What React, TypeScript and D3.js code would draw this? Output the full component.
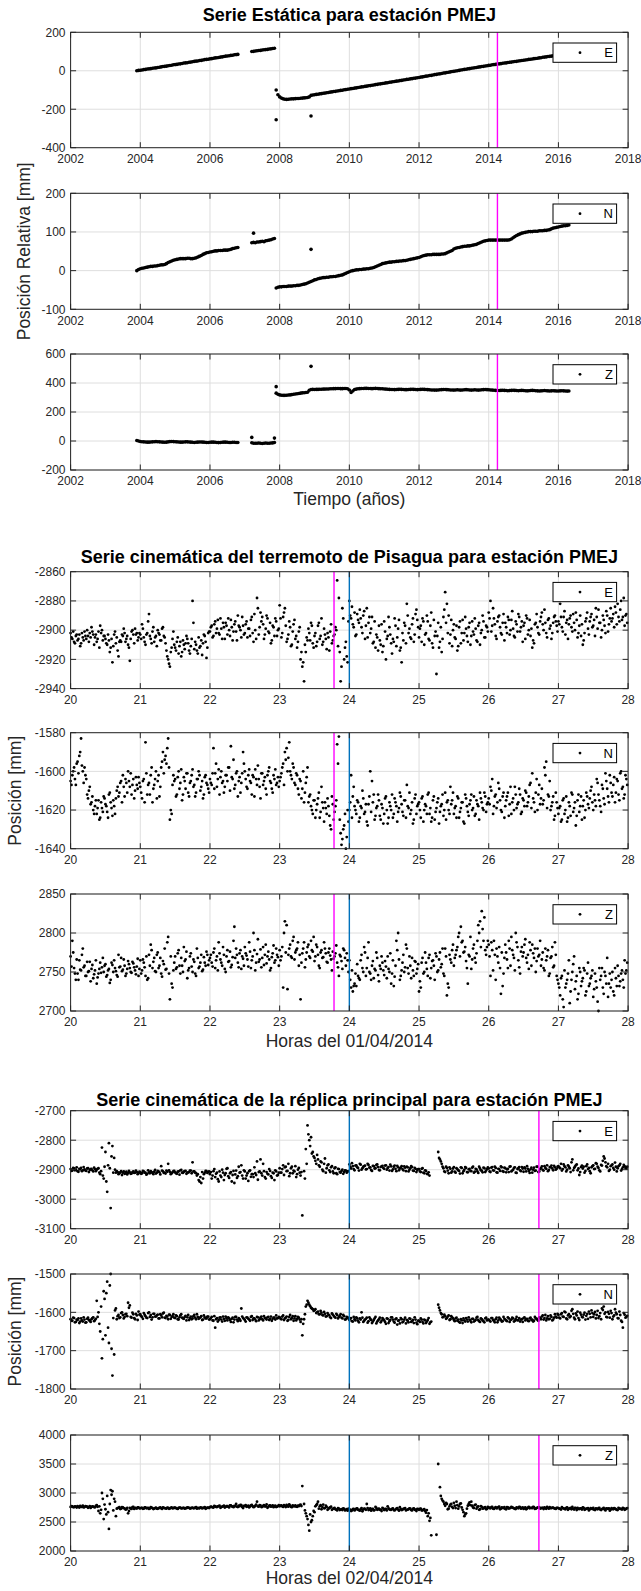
import React from "react";
import * as d3 from "d3";

const WIDTH = 641;
const HEIGHT = 1591;
const PLOT_LEFT = 70.6;
const PLOT_RIGHT = 628.1;
const FONT = '"Liberation Sans", Arial, Helvetica, sans-serif';
const AXIS_COLOR = "#262626";
const GRID_COLOR = "#dedede";
const MAGENTA = "#ff00ff";
const BLUE = "#0072bd";

// ---------------- axis ticks ----------------
const yearTicks = [2002, 2004, 2006, 2008, 2010, 2012, 2014, 2016, 2018];
const hourTicks = [20, 21, 22, 23, 24, 25, 26, 27, 28];

// ---------------- static series (mm), sampled every 0.05 yr ----------------
const STATIC_STEP = 0.05;
const segStartA = 2003.9;
const segStartB = 2007.2;
const segStartC = 2007.9;
const staticEvent = 2014.25;

const eastSegA = [0,2,3,4,6,7,9,10,11,13,14,15,17,18,20,22,23,24,26,27,29,31,32,33,35,36,38,40,41,42,44,45,47,49,50,51,53,54,56,58,59,60,62,63,65,67,68,69,71,72,74,76,77,78,80,81,83,84,85];
const eastSegB = [100,101,103,104,105,106,108,109,110,111,113,114,116,117];
const eastSegC = [-100,-125,-136,-142,-146,-148,-149,-148,-147,-146,-146,-145,-144,-144,-143,-142,-141,-140,-139,-136,-128,-126,-125,
-123,-122,-120,-119,-117,-116,-114,-113,-111,-110,-108,-107,-105,-104,-102,-101,-99,-98,-96,-95,
-93,-92,-90,-89,-87,-86,-84,-83,-81,-80,-78,-77,-75,-74,-72,-71,-69,-68,-66,-65,
-63,-62,-60,-59,-57,-56,-54,-53,-51,-50,-48,-47,-45,-44,-42,-41,-39,-38,-36,-35,
-33,-32,-30,-28,-27,-25,-24,-22,-20,-19,-17,-16,-14,-12,-11,-9,-8,-6,-4,-3,
-1,0,2,4,5,7,8,10,11,13,14,16,17,19,20,22,23,25,26,28,
29,31,32,33,35,36,37,39,40,41,43,44,45,47,48,49,51,52,53,55,
56,57,59,60,61,63,64,65,67,68,70,71,72,74,75,76,78,79,80,82,
83,84,86,87,89,90];
const eastOutliers: [number, number][] = [[2007.9, -255], [2008.9, -235]];

const northSegA = [0,3,5,6,7,8,9,10,11,11,12,12,13,14,15,15,16,18,21,23,25,27,28,29,30,31,31,31,31,32,32,31,31,32,33,35,37,39,42,44,46,47,48,49,50,51,51,52,52,52,53,53,53,54,55,57,58,59,60];
const northSegB = [72,73,72,74,74,75,76,75,77,78,79,80,82,83];
const northSegC = [-45,-43,
-42,-42,-41,-41,-41,-40,-40,-40,-39,-39,-38,-38,-37,-36,-35,-34,-32,-30,-28,-26,
-24,-23,-21,-20,-19,-18,-18,-17,-17,-16,-16,-15,-15,-14,-13,-12,-11,-9,-7,-5,
-3,-1,0,1,2,2,3,3,4,4,5,5,6,7,8,10,12,14,16,18,
19,20,21,22,22,23,23,24,24,25,25,26,26,27,28,29,30,31,32,33,
34,36,38,39,40,41,41,41,42,42,42,42,42,43,43,44,46,48,50,52,
56,58,59,60,61,62,63,63,64,64,65,66,67,68,70,72,74,76,77,78,
79,79,79,79,79,79,79,79,79,79,79,79,80,82,85,88,91,93,95,97,
98,99,100,101,101,101,102,102,102,103,103,103,104,104,105,106,108,110,111,112,
113,114,115,116,116,117,118];
const northOutliers: [number, number][] = [[2007.25, 97], [2008.9, 55]];

const upSegA = [3,0,-3,-5,-6,-7,-8,-8,-7,-6,-5,-4,-5,-6,-7,-8,-9,-8,-6,-4,-3,-4,-5,-6,-7,-8,-8,-7,-6,-6,-7,-8,-9,-10,-9,-8,-7,-7,-8,-9,-10,-10,-9,-8,-8,-9,-10,-11,-10,-9,-8,-8,-9,-10,-10,-9,-9,-10,-10];
const upSegB = [-12,-15,-16,-15,-14,-16,-17,-15,-14,-16,-15,-14,-13,-10];
const upSegC = [330,322,
318,316,315,315,316,317,318,320,322,324,326,328,330,332,333,334,336,350,355,356,
355,356,356,357,357,358,358,359,359,360,360,361,361,362,362,361,361,362,362,360,
352,335,345,355,358,360,361,362,362,363,363,362,362,361,362,363,362,361,360,360,
359,358,357,356,355,355,354,355,356,357,356,355,354,354,355,356,357,356,355,354,
355,356,357,356,355,354,353,352,352,351,351,352,353,354,355,355,354,353,352,352,
351,352,353,352,351,352,353,354,353,352,351,352,353,352,351,352,353,354,355,354,
353,352,351,350,349,348,348,349,350,349,348,347,348,349,350,349,348,347,348,349,
348,347,346,347,348,349,348,347,346,345,346,347,348,347,346,345,346,347,346,345,
345,346,347,346,345,344,345];
const upOutliers: [number, number][] = [[2007.2, 25], [2007.85, 20], [2007.9, 375], [2008.9, 515]];

// ---------------- kinematic series: two interleaved sample sets, 40 samples per hour each,
// offsets (mm) from a base value ----------------
const KIN_START = 20;
const KIN_STEP = 0.025;
const KIN_HALF = 0.0125;
const pisaguaQuake = 23.78;
const dayBoundary = 24;
const aftershockQuake = 26.72;

const pisaguaEastBase = -2900;
const pisaguaEast: (number | null)[][] = [
  [-2,-6,-8,-4,-7,-3,-9,-5,-1,-6,-4,-2,2,-3,-5,-8,-1,3,0,-4,-6,-10,-7,-12,-22,-3,-9,-14,-8,-8,-4,-2,-6,-10,-21,-1,-3,1,-2,-5],
  [-3,4,-5,-10,-2,11,-6,-1,-8,-4,0,-3,-7,2,-5,-14,-20,-25,-12,-1,-12,-8,-16,-8,-15,-10,-9,-6,-14,-11,20,-13,-10,-16,-12,-7,-9,-4,-19,-2],
  [-1,3,-4,6,1,-2,8,-6,2,5,-3,0,7,-7,4,-1,10,2,-5,3,-2,6,1,-4,9,-8,0,22,-3,12,9,-6,1,8,-2,-9,3,-4,6,0],
  [17,-5,9,15,-8,-3,2,-10,4,-6,-12,-1,-20,-25,-35,-15,-7,-2,5,-9,-4,-11,3,-6,8,-8,-3,-13,-5,-1,-9,-4,2,34,22,-35,15,-20,-8,-22],
  [20,8,4,12,-3,7,14,2,10,-6,15,5,-2,9,-8,-12,-5,3,-10,-15,6,-20,-4,2,-9,-6,8,-11,1,-14,-22,-7,3,18,-2,-5,4,-8,11,7],
  [-5,3,8,-10,-2,6,-7,12,-12,-4,-30,5,-8,-15,9,26,18,10,-3,-11,4,-6,-14,2,-9,7,-2,1,-8,5,-4,-1,8,-7,3,-10,0,6,-5,2],
  [12,20,3,8,-4,6,10,-2,5,-7,2,9,-3,7,1,-5,4,11,-1,6,3,-6,8,0,-4,-12,-9,5,2,-3,9,4,14,-2,7,1,-6,5,10,3],
  [6,18,2,9,-3,7,4,10,-1,5,12,-5,3,-4,-10,-2,8,1,6,11,3,-4,9,14,5,0,7,-2,10,4,15,8,2,12,18,6,20,9,3,11],
];
const pisaguaEastB: (number | null)[][] = [
  [-5,-1,-9,-3,-6,-11,-2,-7,-4,0,-8,-5,-1,-10,-3,-6,-12,-2,-7,-4,-9,-3,-15,-6,-11,-1,-5,-18,-7,-3,1,-8,-4,-12,-6,0,-9,-3,-7,-2],
  [-6,1,-8,-3,6,-4,-9,2,-5,-11,-2,-7,1,-4,-9,-18,-23,-15,-6,-10,-14,-5,-11,-18,-7,-13,-4,-9,-16,-6,5,-8,-14,-5,-11,-17,-3,-8,-12,-1],
  [2,-5,4,-2,7,-3,1,5,-6,3,8,-4,2,-1,6,-7,3,0,9,-3,4,-5,1,7,-2,11,-6,15,2,6,4,-3,10,-1,5,-7,2,8,-4,1],
  [8,-2,12,3,-6,6,-11,-1,7,-4,-8,2,-15,-22,-10,-5,1,-7,3,-12,-2,-8,5,-4,-10,1,-6,-2,-14,4,-7,-3,0,-11,-15,-25,8,-12,-18,6],
  [10,16,2,-4,11,5,8,-2,13,3,-5,9,1,-9,6,-3,-14,-7,4,-11,-1,-6,9,-3,-16,-8,3,-5,7,-12,-2,5,-9,10,1,-6,8,-3,14,2],
  [1,-8,6,-3,10,-6,3,-9,7,-1,-4,-12,2,-6,14,5,-2,-9,7,0,-5,3,-11,6,-2,-7,9,-4,2,-10,6,-3,1,-8,5,-2,10,-5,3,-1],
  [8,-1,15,4,-6,9,2,-3,11,5,-2,7,0,13,-4,6,-1,9,2,-8,5,10,-3,7,1,-7,4,11,-2,6,12,0,5,-5,8,3,-2,9,6,-1],
  [4,9,-1,13,5,-6,8,2,11,0,7,-2,10,4,-7,6,12,-3,9,2,7,15,1,5,-5,10,3,13,-1,8,6,11,16,4,9,14,7,22,10,5],
];

const pisaguaNorthBase = -1610;
const pisaguaNorth: (number | null)[][] = [
  [5,8,12,3,15,18,27,10,12,6,-4,2,-6,-10,-8,-12,-5,-14,-9,-3,-7,-11,-2,-6,-13,-8,-4,2,-1,5,8,-3,4,10,2,-2,6,0,3,7],
  [2,-4,6,25,-2,4,8,-6,3,10,5,-3,12,20,16,14,27,-15,-12,8,6,-2,10,4,-5,7,1,9,-3,5,11,3,-1,6,8,2,-4,7,4,1],
  [6,3,22,9,2,11,7,4,-1,8,5,12,23,6,1,9,-3,7,4,20,10,2,8,5,-2,7,11,3,6,-4,9,5,1,8,12,4,-1,6,3,7],
  [5,9,14,20,22,17,10,6,12,3,8,-2,5,1,-6,4,12,-3,-8,-12,-5,-10,-4,-14,2,-9,-6,-12,-8,-18,-3,-15,-8,24,28,-22,-25,-18,-30,-10],
  [-10,8,-3,-8,-12,-6,-14,-9,-4,-11,-16,-7,10,5,-2,-13,-8,-5,-15,-9,-12,-3,-17,-6,-10,-14,-4,-8,-11,-1,-7,-13,-5,3,-9,-12,-6,-15,-2,-8],
  [-6,-14,-3,-10,-8,-2,-12,-16,-5,-15,-9,-4,-11,-7,-13,-1,-6,-10,2,-5,-12,-8,-3,-14,-9,-6,-17,-4,-11,-7,-2,-9,-13,-5,-8,-1,-6,-10,-3,-7],
  [-4,2,6,-8,-2,-6,1,-10,-3,-14,-5,-1,-7,-12,-4,2,-9,-6,-2,-11,-5,0,-8,-3,4,9,-6,-1,-10,3,-4,-7,12,15,-2,5,-8,-3,-13,-6],
  [-12,-8,-15,-4,-10,-16,-6,-13,-2,-9,-18,-5,-11,-3,-8,-14,-1,-7,-4,2,-10,-5,6,-2,-8,3,-4,9,1,-6,4,-3,7,-1,5,-5,10,2,-2,6],
];
const pisaguaNorthB: (number | null)[][] = [
  [3,10,6,14,9,20,13,4,8,-2,0,-7,-3,-12,-5,-9,-15,-6,-11,-4,-8,-14,-1,-9,-5,-12,0,-3,4,-6,2,6,-1,5,9,3,-4,7,1,4],
  [-1,5,-6,9,3,-2,12,1,6,-4,8,2,15,9,18,22,12,-10,3,5,-3,7,1,11,-2,5,9,-1,4,8,2,-3,6,10,0,5,-2,8,3,-1],
  [4,9,1,14,6,-2,10,5,2,8,12,0,7,16,3,10,5,-1,9,14,6,1,11,4,8,-3,6,13,2,9,3,7,-2,10,5,1,8,11,4,2],
  [7,12,3,16,10,25,8,14,4,9,1,6,-4,10,-1,7,-6,-2,-10,-5,-14,-7,-1,-11,-6,-16,-9,-4,-13,-20,-7,-11,-5,14,-15,-28,-20,-12,-24,-16],
  [-6,-14,2,-10,-5,-16,-8,0,-12,-7,-18,-3,-11,-6,-15,-9,-2,-13,-7,-17,-4,-10,-14,-8,-2,-12,-6,-16,-9,-3,-11,-5,-14,-8,-1,-10,-17,-4,-12,-7],
  [-10,-4,-16,-7,-12,-1,-9,-14,-3,-11,-6,-17,-8,-2,-10,-15,-5,-12,-7,-1,-9,-14,-4,-11,-6,-16,-2,-8,-13,-5,-10,-3,-12,-7,-15,-4,-9,-1,-11,-6],
  [-7,0,-12,-3,-9,4,-5,-11,-1,-8,-3,-13,2,-6,-10,-2,-7,1,-12,-4,-8,-1,-6,3,-9,-4,-11,6,-2,-7,1,-5,8,-9,-3,-10,-6,-15,-1,-9],
  [-9,-16,-5,-12,-3,-14,-8,-1,-11,-6,-13,-2,-8,-15,-5,-10,-3,-9,0,-6,-2,-8,4,-5,-11,1,-7,5,-3,8,-1,3,-6,6,-2,9,1,-4,8,3],
];

const pisaguaUpBase = 2760;
const pisaguaUp: (number | null)[][] = [
  [10,30,-5,-20,-12,5,-8,20,-2,-15,-10,3,-6,-18,-8,-25,-12,2,-4,-10,0,-14,-6,-20,-1,5,-9,-16,-4,8,-7,-2,-12,4,-5,-11,1,-8,-3,-15],
  [5,-8,2,-15,-20,12,25,-5,8,-10,15,-2,-12,4,20,-6,35,-45,-25,-8,10,-4,18,-12,-2,22,6,-18,-5,14,-10,3,-15,8,-3,12,-7,2,16,-1],
  [8,2,15,-5,10,28,6,-2,12,-10,18,4,-4,9,48,20,2,14,-6,7,22,11,-3,16,5,40,-8,13,3,19,8,-1,25,10,6,-5,14,2,20,9],
  [18,10,-30,55,50,12,25,8,35,15,20,-2,-45,14,28,6,22,10,30,16,4,25,12,-5,18,9,20,3,15,11,-8,7,14,2,-15,10,-6,18,-2,5],
  [5,-30,-35,-25,-28,-15,-20,12,-10,15,-5,28,-12,-2,-18,-8,8,-22,-6,2,-14,-3,10,-10,-25,5,-16,30,40,-20,-8,12,-4,20,-12,-2,8,-15,3,-6],
  [-35,-30,8,-10,2,-15,12,-5,5,-20,10,-8,15,0,-12,20,-40,-30,6,18,-2,12,22,40,48,30,16,4,-25,10,-6,20,8,14,50,55,68,30,18,22],
  [25,-15,18,30,-20,10,22,-38,-28,8,15,-5,20,35,12,-8,28,5,-12,22,15,32,2,-6,18,25,8,-10,20,12,-2,15,-8,5,18,-12,10,-4,28,-15],
  [-25,-40,-15,-55,-30,-20,5,-35,-10,10,-22,-45,-5,-28,-18,-8,-35,2,-25,-15,-42,-12,-30,-60,-20,-5,-38,-15,8,-25,-30,-10,-40,-18,-2,-28,-12,-20,5,-8],
];
const pisaguaUpB: (number | null)[][] = [
  [-3,15,-12,6,-20,-7,12,-4,-15,3,-9,-22,-1,-13,5,-17,-6,-11,8,-2,-16,-8,-24,2,-10,-5,-14,12,-3,-9,6,-15,-6,0,-10,3,-4,-13,7,-6],
  [-12,6,-4,10,-18,-2,18,3,-9,12,-5,8,-16,0,-7,28,-12,10,-30,2,-6,14,-2,8,-10,4,16,-8,10,-3,6,-12,20,-5,2,-9,9,-2,12,5],
  [12,-3,20,5,-8,14,2,22,-6,10,3,16,-1,30,8,12,-4,18,10,-2,14,6,28,-5,10,18,2,32,6,-4,22,12,1,16,-8,9,24,5,12,-2],
  [5,22,40,15,-32,20,10,30,6,18,28,12,2,20,-4,15,25,8,18,35,10,22,-2,15,8,28,14,2,20,6,16,10,24,-4,12,4,20,8,14,-10],
  [-20,-8,-28,-12,0,-18,5,-5,22,-15,8,-10,-20,4,-6,15,-14,-2,10,-8,4,-18,-6,14,-12,-28,-2,18,6,-15,2,-10,25,-5,10,-18,-8,4,-12,0],
  [-22,2,-12,15,-6,8,-18,4,-2,14,-10,6,-4,20,-15,10,-25,12,2,25,8,18,35,10,28,15,22,-5,12,35,6,25,2,30,40,22,45,60,12,30],
  [10,28,-8,12,20,2,-5,15,-12,25,6,30,-2,18,8,40,22,-4,16,10,25,8,12,28,-2,14,20,4,10,30,6,-5,20,10,-15,8,22,-2,12,-20],
  [-30,-18,-45,-8,-25,-12,-50,-20,0,-32,-15,-38,-10,-22,-5,-40,-12,-28,-18,-8,-32,-22,-48,-5,-15,-30,-10,-25,-42,-12,-20,-35,-5,-28,-15,-22,-8,-30,-12,2],
];

const aftershockEastBase = -2900;
const aftershockEast: (number | null)[][] = [
  [2,-3,4,0,-5,3,6,-2,1,-4,5,-1,3,-6,2,0,5,-15,75,-30,60,-75,90,-130,80,40,-10,-8,-12,-5,-10,-14,-7,-11,-9,-13,-6,-10,-8,-12],
  [-8,-12,-6,-10,-14,-9,-5,-11,-7,-13,-4,-9,12,-6,-10,-3,20,-8,-12,-5,-9,-14,-6,-2,-10,-7,-4,-11,-8,-3,25,-6,-12,-15,-40,-45,-30,-10,-5,-8],
  [-15,-30,-5,-25,-10,-40,-20,0,-35,-12,5,-28,-8,-18,-45,-3,-22,-10,15,-30,-6,-20,-38,-2,-15,-25,-12,28,-8,35,-20,-5,-30,-14,2,-22,-10,-35,-6,-18],
  [5,-10,15,8,-5,20,-12,10,-3,12,-15,6,-20,-155,-5,70,150,100,110,60,40,20,35,10,25,-5,38,5,18,-8,12,-12,8,-15,2,-10,0,-8,-3,-6],
  [18,4,12,-2,15,6,20,0,10,14,2,16,8,-4,12,5,18,-1,9,13,3,15,6,-3,11,1,14,-5,8,4,12,-2,7,10,-6,5,9,-4,3,-1],
  [2,-8,5,-12,-4,-15,-20,null,null,null,null,60,35,20,5,-8,6,-12,3,-6,9,-10,2,-4,8,-12,0,6,-9,3,-5,10,-7,1,-11,4,-3,7,-8,2],
  [4,-8,9,-3,6,-10,2,11,-5,7,-9,3,10,-6,0,8,-11,5,-2,9,-7,4,12,-4,1,-10,7,-3,10,-6,5,-1,12,3,-5,9,14,-2,8,3],
  [12,5,-3,18,8,0,10,-8,35,6,15,-2,-18,9,4,-10,12,2,-5,8,15,3,20,6,-6,14,45,25,8,-4,12,18,0,10,5,15,-3,8,12,4],
];
const aftershockEastB: (number | null)[][] = [
  [-4,6,-2,8,-7,1,-5,9,-3,4,-8,2,-2,7,-5,3,-10,-5,-20,10,-40,15,5,45,-10,0,-5,-15,-9,-18,-6,-12,-16,-4,-14,-8,-11,-3,-15,-7],
  [-14,-4,-10,-17,-2,-12,-8,-15,-1,-10,-6,-16,-3,-11,-13,-7,-2,-15,-9,-4,-12,-7,-17,-1,-11,-5,-14,-9,-3,-12,-6,-10,-20,-35,-25,-8,-15,-4,-11,-6],
  [-8,-20,2,-14,-32,-6,-25,-10,-18,3,-22,-12,-40,-4,-16,-28,10,-8,-20,-2,-30,-12,-5,-24,-15,8,-18,-34,-6,-12,20,-25,-8,-16,-4,-28,-12,-2,-20,-10],
  [-10,2,-18,10,-4,-22,5,-12,-6,-25,0,-10,-8,null,-30,20,120,80,55,45,30,50,15,28,0,20,-10,15,-2,8,-6,5,-12,3,-8,-4,-14,-2,-10,-5],
  [10,22,2,14,8,-3,17,5,12,1,20,7,-1,13,4,16,9,-2,11,6,14,0,9,17,-4,10,3,13,-2,7,2,11,-5,8,0,12,-3,6,-8,2],
  [-6,3,-10,-2,-14,-9,null,null,null,null,null,40,28,10,-6,10,-3,8,-10,4,-7,5,-2,-13,6,-5,9,-8,1,-4,7,-10,3,-6,10,-2,-9,5,-3,8],
  [-6,7,-2,10,-9,3,-4,8,-7,5,1,-8,11,-3,6,-10,2,9,-5,4,8,-6,3,-11,7,0,-4,10,-8,2,11,-3,6,15,-1,8,4,13,0,10],
  [8,20,2,12,-6,15,5,25,-2,10,18,4,-8,14,10,-4,18,6,-12,12,2,22,10,-2,16,30,38,12,20,0,15,6,24,-6,12,20,2,16,6,10],
];

const aftershockNorthBase = -1610;
const aftershockNorth: (number | null)[][] = [
  [-8,-12,-5,-15,-10,-18,-6,-14,-9,-16,-4,-12,-8,-3,-10,40,10,-40,-110,65,-50,90,-70,110,-155,-100,20,0,-5,8,3,-2,6,35,28,-4,5,-8,2,12],
  [5,-2,8,0,-5,10,3,-3,6,-1,4,-6,2,7,-4,1,-8,3,-2,5,-5,0,-9,2,-4,-7,1,-3,-10,-1,-6,3,-8,-2,-5,0,-9,-3,-6,-1],
  [-8,-2,-12,-30,-5,-10,-3,-14,-7,-1,-11,-6,-15,-4,-9,-2,-13,-8,20,-5,-10,-3,-7,-12,0,-6,-9,-2,-11,-4,-8,0,-6,-3,-10,-1,-7,-4,2,-5],
  [-3,-8,2,-6,-1,-10,3,-5,-12,0,-7,-4,-15,-50,-8,25,40,30,22,18,15,8,12,5,9,2,6,0,4,-3,7,1,-4,3,-2,5,-6,0,-8,-3],
  [-10,-5,-14,-8,-3,-12,-6,10,-15,-9,-4,-13,-7,-18,-10,-2,-14,-8,-16,-5,-11,-20,-7,-13,-3,-9,-17,-6,-12,-19,-8,-14,-4,-10,-16,-7,-13,-18,-9,-21],
  [-12,-6,-15,-9,-18,-10,-20,-14,null,null,null,30,15,5,-2,0,-5,2,-8,-3,-10,-6,-12,-15,-8,-18,-11,-5,-14,-9,-16,-7,-12,-4,-10,-15,-8,-13,-6,-11],
  [-9,-14,-5,-12,-8,-16,-4,-10,-13,-7,-11,-3,-15,-9,-6,-12,-2,-10,-14,-8,-5,-11,-7,-13,-4,-9,-12,-6,-10,-3,-8,2,-5,-11,0,-7,-2,-9,5,-4],
  [3,-6,8,-2,10,-8,5,0,18,-4,7,12,-10,4,-3,9,1,-7,6,15,-2,11,3,-5,8,20,25,10,-3,6,14,-8,2,9,-5,12,-12,-30,4,-2],
];
const aftershockNorthB: (number | null)[][] = [
  [-12,-4,-16,-9,-6,-14,-11,-3,-17,-7,-10,-15,-5,-13,-7,-2,-20,25,-60,45,60,-30,80,-85,-5,15,-8,3,-3,10,-6,5,0,22,-2,9,-5,6,-10,4],
  [0,-7,4,-4,8,-2,-9,6,-1,2,-6,5,-3,9,-5,-1,4,-7,0,-4,2,-8,-3,5,-6,-2,-11,3,-5,-8,0,-4,5,-7,-3,-10,2,-6,-1,-9],
  [-5,-11,0,-8,-14,-4,-9,-1,-12,-6,-3,-10,-7,-16,-2,-9,-5,-12,-1,-7,-14,-4,-9,-2,-10,-6,-13,-3,-8,-1,-11,-5,-9,-2,-7,-12,-4,-9,-6,-2],
  [-7,-1,-10,-4,-12,-2,-8,0,-6,-11,-2,-9,-8,-20,5,30,35,26,20,14,18,10,5,14,3,11,-1,8,2,-5,4,-2,6,-6,1,-4,3,-9,-2,-6],
  [-7,-13,-2,-11,-6,-16,-9,-4,-12,-7,-17,-3,-10,-14,-6,-19,-11,-4,-12,-8,-15,-6,-18,-10,-3,-14,-8,-22,-11,-5,-16,-9,-19,-12,-6,-15,-10,-3,-17,-12],
  [-15,-9,-19,-11,-14,-5,-16,null,null,null,null,22,8,-3,4,-7,-1,-10,0,-6,-13,-4,-9,-17,-11,-6,-14,-9,-3,-12,-7,-14,-10,-2,-13,-6,-11,-16,-4,-9],
  [-12,-5,-10,-16,-4,-11,-7,-14,-2,-9,-13,-6,-10,-4,-14,-8,-11,-5,-9,-15,-3,-8,-12,-6,-10,-14,-2,-7,-12,-5,-1,-9,3,-6,-8,2,-11,-4,-1,6],
  [-4,5,-1,12,-6,2,-3,14,6,-8,2,-5,9,-2,4,-9,6,12,-3,8,5,-6,14,0,-8,16,6,-2,11,-4,8,-1,18,5,-6,3,-15,8,-4,1],
];

const aftershockUpBase = 2750;
const aftershockUp: (number | null)[][] = [
  [10,20,5,15,25,0,12,30,8,18,-5,22,10,15,3,40,-60,-100,250,-200,-30,200,-370,300,280,150,-150,-10,5,-20,0,-15,-30,-100,-5,-25,10,-8,-18,2],
  [-15,-5,-20,0,-10,-25,5,-12,-18,-3,-22,-8,-14,2,-10,-20,-6,-16,0,-12,-4,-18,-9,-1,-14,-7,-11,3,-5,-13,-2,-10,6,-8,-15,-3,-6,4,-12,-1],
  [5,12,0,18,8,25,-5,15,30,10,22,2,35,14,28,60,8,20,40,-10,25,12,30,18,45,5,28,100,15,35,10,40,20,-5,30,15,38,22,8,25],
  [20,35,10,28,45,15,30,5,25,38,12,22,50,370,60,-100,-200,-400,-250,-150,-80,40,100,20,-30,50,-10,10,-25,0,-40,-15,-30,-50,-20,-35,-45,-25,-40,-55],
  [-45,-60,-30,-50,-20,-40,-55,-10,-35,-25,60,-45,-15,-30,-50,10,-40,-20,-35,-5,-45,-25,20,-30,-40,-15,-50,-20,-35,5,-45,-25,-10,-40,-30,-20,-50,-15,-35,-25],
  [-40,-20,-50,-30,-90,-150,-230,-480,null,null,-470,750,350,150,100,30,60,-20,50,10,80,-10,40,20,70,-40,-150,-100,30,90,100,0,40,-20,20,-30,10,-15,5,-25],
  [0,-15,10,-25,5,-10,15,-20,-5,8,-30,0,-12,12,-8,-22,3,-15,6,-10,-25,2,-18,10,-5,-12,5,-20,-3,8,-15,-8,0,-22,-6,4,-12,-2,-18,-5],
  [-10,-25,5,-15,-30,0,-20,-8,10,-35,-12,-5,-28,-15,2,-40,-20,-10,-32,-18,-5,-45,-22,-12,-35,-28,-8,-50,-20,-15,-38,-25,-10,-30,-45,-18,-25,-5,-40,-20],
];
const aftershockUpB: (number | null)[][] = [
  [25,5,18,-2,12,28,10,2,22,15,8,-8,18,5,28,12,20,-40,150,50,-120,-80,60,220,-50,100,-20,-5,-28,8,-12,-35,-8,-60,-18,5,-25,-10,2,-15],
  [-8,-22,2,-15,-5,-18,-2,-28,-10,-20,-12,0,-25,-6,-16,-1,-22,-8,-14,-4,-10,-24,-2,-16,-6,-20,-12,-3,-18,-8,-14,-4,-20,-12,0,-16,-8,-22,-2,-10],
  [15,2,28,10,18,30,8,20,-2,25,12,38,20,5,22,15,30,45,10,28,40,18,2,35,22,12,50,20,42,8,28,18,52,10,35,22,5,30,15,40],
  [30,18,42,8,25,55,12,35,20,15,30,40,25,null,-50,-150,-300,-120,-220,-60,20,60,-20,40,10,-15,30,-40,-5,15,-25,-8,-35,-12,-45,-28,-15,-50,-30,-20],
  [-35,-50,-25,-40,-15,-45,-30,-65,-20,-40,-10,-35,-55,-25,-45,-8,-30,-40,-60,-20,-30,-50,-15,-40,-25,-45,-35,-10,-55,-30,-40,-20,-50,-35,-15,-45,-25,-40,-60,-30],
  [-25,-50,-35,-60,-45,-100,-180,null,null,null,null,null,200,120,60,80,-30,20,60,-10,30,100,-20,60,0,-80,-120,-20,60,40,30,-10,50,10,-40,25,-20,0,-30,10],
  [-10,5,-20,-5,-15,8,-30,0,-12,-25,5,-18,-8,2,-15,-28,-5,10,-20,0,-12,-30,-2,-15,-8,12,-25,-10,0,-18,-5,-28,-12,10,-20,-10,-2,-15,-25,-8],
  [-20,-35,-10,-25,-5,-40,-15,-30,-20,-8,-45,-25,-15,-35,-5,-30,-20,-50,-12,-28,-38,-15,-30,-8,-45,-20,-35,-15,-25,-55,-12,-30,-20,-40,-5,-25,-35,-15,-30,-10],
];

// ---------------- helpers ----------------
type Pt = [number, number];

function staticPoints(a: number[], b: number[], c: number[], outliers: Pt[]): Pt[] {
  const pts: Pt[] = [];
  a.forEach((v, i) => pts.push([segStartA + i * STATIC_STEP, v]));
  b.forEach((v, i) => pts.push([segStartB + i * STATIC_STEP, v]));
  c.forEach((v, i) => pts.push([segStartC + i * STATIC_STEP, v]));
  outliers.forEach((p) => pts.push(p));
  return pts;
}

function kinematicPoints(rows: (number | null)[][], base: number, shift: number): Pt[] {
  const pts: Pt[] = [];
  rows.forEach((row, h) =>
    row.forEach((v, i) => {
      if (v !== null) pts.push([KIN_START + h + shift + i * KIN_STEP, base + v]);
    })
  );
  return pts;
}

function kinematicBoth(a: (number | null)[][], b: (number | null)[][], base: number): Pt[] {
  return kinematicPoints(a, base, 0).concat(kinematicPoints(b, base, KIN_HALF));
}

type VLine = { x: number; color: string };
type PanelSpec = {
  top: number;
  bottom: number;
  xDomain: [number, number];
  xTicks: number[];
  yDomain: [number, number];
  yTicks: number[];
  points: Pt[];
  dotR: number;
  vlines: VLine[];
  legend: string;
};

const staticLines: VLine[] = [{ x: staticEvent, color: MAGENTA }];
const pisaguaLines: VLine[] = [
  { x: pisaguaQuake, color: MAGENTA },
  { x: dayBoundary, color: BLUE },
];
const aftershockLines: VLine[] = [
  { x: dayBoundary, color: BLUE },
  { x: aftershockQuake, color: MAGENTA },
];

const STATIC_R = 1.8;
const KIN_R = 1.4;

const panels: PanelSpec[] = [
  { top: 32.3, bottom: 147.7, xDomain: [2002, 2018], xTicks: yearTicks, yDomain: [-400, 200], yTicks: [-400, -200, 0, 200], points: staticPoints(eastSegA, eastSegB, eastSegC, eastOutliers), dotR: STATIC_R, vlines: staticLines, legend: "E" },
  { top: 193.3, bottom: 309.3, xDomain: [2002, 2018], xTicks: yearTicks, yDomain: [-100, 200], yTicks: [-100, 0, 100, 200], points: staticPoints(northSegA, northSegB, northSegC, northOutliers), dotR: STATIC_R, vlines: staticLines, legend: "N" },
  { top: 354, bottom: 470, xDomain: [2002, 2018], xTicks: yearTicks, yDomain: [-200, 600], yTicks: [-200, 0, 200, 400, 600], points: staticPoints(upSegA, upSegB, upSegC, upOutliers), dotR: STATIC_R, vlines: staticLines, legend: "Z" },
  { top: 571.7, bottom: 688.6, xDomain: [20, 28], xTicks: hourTicks, yDomain: [-2940, -2860], yTicks: [-2940, -2920, -2900, -2880, -2860], points: kinematicBoth(pisaguaEast, pisaguaEastB, pisaguaEastBase), dotR: KIN_R, vlines: pisaguaLines, legend: "E" },
  { top: 732.7, bottom: 848.7, xDomain: [20, 28], xTicks: hourTicks, yDomain: [-1640, -1580], yTicks: [-1640, -1620, -1600, -1580], points: kinematicBoth(pisaguaNorth, pisaguaNorthB, pisaguaNorthBase), dotR: KIN_R, vlines: pisaguaLines, legend: "N" },
  { top: 894, bottom: 1011, xDomain: [20, 28], xTicks: hourTicks, yDomain: [2700, 2850], yTicks: [2700, 2750, 2800, 2850], points: kinematicBoth(pisaguaUp, pisaguaUpB, pisaguaUpBase), dotR: KIN_R, vlines: pisaguaLines, legend: "Z" },
  { top: 1110.7, bottom: 1228.7, xDomain: [20, 28], xTicks: hourTicks, yDomain: [-3100, -2700], yTicks: [-3100, -3000, -2900, -2800, -2700], points: kinematicBoth(aftershockEast, aftershockEastB, aftershockEastBase), dotR: KIN_R, vlines: aftershockLines, legend: "E" },
  { top: 1274, bottom: 1389, xDomain: [20, 28], xTicks: hourTicks, yDomain: [-1800, -1500], yTicks: [-1800, -1700, -1600, -1500], points: kinematicBoth(aftershockNorth, aftershockNorthB, aftershockNorthBase), dotR: KIN_R, vlines: aftershockLines, legend: "N" },
  { top: 1435, bottom: 1551, xDomain: [20, 28], xTicks: hourTicks, yDomain: [2000, 4000], yTicks: [2000, 2500, 3000, 3500, 4000], points: kinematicBoth(aftershockUp, aftershockUpB, aftershockUpBase), dotR: KIN_R, vlines: aftershockLines, legend: "Z" },
];

const titles = [
  { text: "Serie Estática para estación PMEJ", y: 20.7 },
  { text: "Serie cinemática del terremoto de Pisagua para estación PMEJ", y: 562.7 },
  { text: "Serie cinemática de la réplica principal para estación PMEJ", y: 1106 },
];
const xLabels = [
  { text: "Tiempo (años)", y: 505 },
  { text: "Horas del 01/04/2014", y: 1046.8 },
  { text: "Horas del 02/04/2014", y: 1584 },
];
const yLabels = [
  { text: "Posición Relativa [mm]", panel: 1, x: 30 },
  { text: "Posición [mm]", panel: 4, x: 21 },
  { text: "Posición [mm]", panel: 7, x: 21 },
];

const TICK_LEN = 5.5;
const TICK_FONT = 12;

function Panel({ p }: { p: PanelSpec }) {
  const x = d3.scaleLinear().domain(p.xDomain).range([PLOT_LEFT, PLOT_RIGHT]);
  const y = d3.scaleLinear().domain(p.yDomain).range([p.bottom, p.top]);
  const w = PLOT_RIGHT - PLOT_LEFT;
  const h = p.bottom - p.top;
  const legX = PLOT_RIGHT - 11.5 - 63.6;
  const legY = p.top + 10.7;
  return (
    <g>
      {p.xTicks.map((t) => (
        <line key={"gx" + t} x1={x(t)} x2={x(t)} y1={p.top} y2={p.bottom} stroke={GRID_COLOR} strokeWidth={1} />
      ))}
      {p.yTicks.map((t) => (
        <line key={"gy" + t} x1={PLOT_LEFT} x2={PLOT_RIGHT} y1={y(t)} y2={y(t)} stroke={GRID_COLOR} strokeWidth={1} />
      ))}
      {p.points.map(([a, b], i) => (
        <circle key={"p" + i} cx={x(a)} cy={y(b)} r={p.dotR} fill="#000" />
      ))}
      {p.vlines.map((v, i) => (
        <line key={"v" + i} x1={x(v.x)} x2={x(v.x)} y1={p.top} y2={p.bottom} stroke={v.color} strokeWidth={1.4} />
      ))}
      <rect x={PLOT_LEFT} y={p.top} width={w} height={h} fill="none" stroke={AXIS_COLOR} strokeWidth={1} />
      {p.xTicks.map((t) => (
        <g key={"tx" + t}>
          <line x1={x(t)} x2={x(t)} y1={p.bottom} y2={p.bottom - TICK_LEN} stroke={AXIS_COLOR} />
          <line x1={x(t)} x2={x(t)} y1={p.top} y2={p.top + TICK_LEN} stroke={AXIS_COLOR} />
          <text x={x(t)} y={p.bottom + 15.3} textAnchor="middle" fontSize={TICK_FONT} fill={AXIS_COLOR} fontFamily={FONT}>
            {t}
          </text>
        </g>
      ))}
      {p.yTicks.map((t) => (
        <g key={"ty" + t}>
          <line x1={PLOT_LEFT} x2={PLOT_LEFT + TICK_LEN} y1={y(t)} y2={y(t)} stroke={AXIS_COLOR} />
          <line x1={PLOT_RIGHT} x2={PLOT_RIGHT - TICK_LEN} y1={y(t)} y2={y(t)} stroke={AXIS_COLOR} />
          <text x={65.5} y={y(t) + 4.3} textAnchor="end" fontSize={TICK_FONT} fill={AXIS_COLOR} fontFamily={FONT}>
            {t}
          </text>
        </g>
      ))}
      <rect x={legX} y={legY} width={63.6} height={19.3} fill="#fff" stroke="#000" strokeWidth={1} />
      <circle cx={legX + 27} cy={legY + 9.65} r={KIN_R} fill="#000" />
      <text x={legX + 60} y={legY + 9.65 + 4.5} textAnchor="end" fontSize={13} fill="#000" fontFamily={FONT}>
        {p.legend}
      </text>
    </g>
  );
}

export default function App() {
  const cx = (PLOT_LEFT + PLOT_RIGHT) / 2;
  return (
    <svg
      width={WIDTH}
      height={HEIGHT}
      viewBox={`0 0 ${WIDTH} ${HEIGHT}`}
      style={{ position: "absolute", left: 0, top: 0, background: "#fff" }}
    >
      <rect x={0} y={0} width={WIDTH} height={HEIGHT} fill="#fff" />
      {panels.map((p, i) => (
        <Panel key={i} p={p} />
      ))}
      {titles.map((t, i) => (
        <text key={"t" + i} x={cx} y={t.y} textAnchor="middle" fontSize={18} fontWeight="bold" fill="#000" fontFamily={FONT}>
          {t.text}
        </text>
      ))}
      {xLabels.map((t, i) => (
        <text key={"xl" + i} x={cx} y={t.y} textAnchor="middle" fontSize={17.5} fill={AXIS_COLOR} fontFamily={FONT}>
          {t.text}
        </text>
      ))}
      {yLabels.map((t, i) => {
        const p = panels[t.panel];
        const yc = (p.top + p.bottom) / 2;
        return (
          <text
            key={"yl" + i}
            transform={`translate(${t.x}, ${yc}) rotate(-90)`}
            textAnchor="middle"
            fontSize={17.5}
            fill={AXIS_COLOR}
            fontFamily={FONT}
          >
            {t.text}
          </text>
        );
      })}
    </svg>
  );
}
